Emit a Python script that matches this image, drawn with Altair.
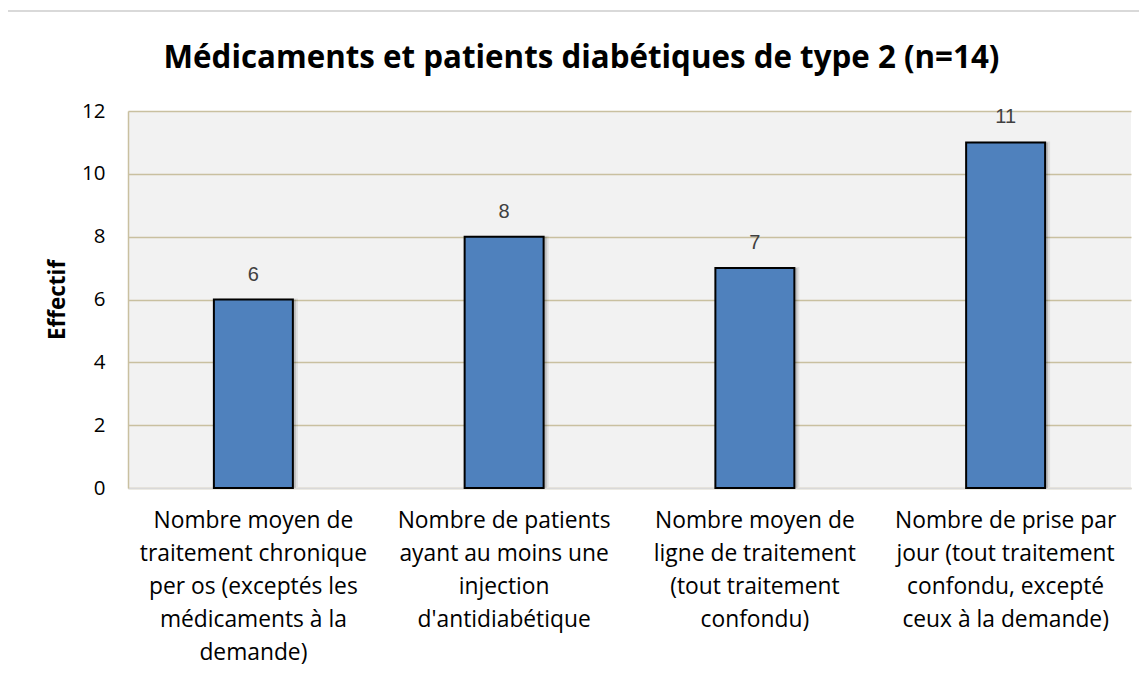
import altair as alt
import pandas as pd
import json

categories = [
    "Nombre moyen de traitement chronique per os (exceptés les médicaments à la demande)",
    "Nombre de patients ayant au moins une injection d'antidiabétique",
    "Nombre moyen de ligne de traitement (tout traitement confondu)",
    "Nombre de prise par jour (tout traitement confondu, excepté ceux à la demande)",
]
label_lines = [
    ["Nombre moyen de", "traitement chronique", "per os (exceptés les", "médicaments à la", "demande)"],
    ["Nombre de patients", "ayant au moins une", "injection", "d'antidiabétique"],
    ["Nombre moyen de", "ligne de traitement", "(tout traitement", "confondu)"],
    ["Nombre de prise par", "jour (tout traitement", "confondu, excepté", "ceux à la demande)"],
]
values = [6, 8, 7, 11]
y_ticks = [0, 2, 4, 6, 8, 10, 12]
title_text = "Médicaments et patients diabétiques de type 2 (n=14)"

df = pd.DataFrame({"cat": categories, "val": values})
mapping = json.dumps(dict(zip(categories, label_lines)), ensure_ascii=False)

W, H = 1003, 377
FONT = "Open Sans"

xenc = alt.X(
    "cat:N",
    sort=categories,
    scale=alt.Scale(paddingInner=0.685, paddingOuter=0.3425),
    axis=alt.Axis(
        title=None,
        labelAngle=0,
        labelExpr=f"{mapping}[datum.value]",
        labelFont=FONT,
        labelFontSize=22.8,
        labelColor="#000000",
        labelLineHeight=33,
        labelPadding=21,
        labelLimit=300,
        ticks=False,
        domain=True,
        domainColor="#d9d9d9",
        domainWidth=1.5,
        grid=False,
    ),
)
yenc = alt.Y(
    "val:Q",
    scale=alt.Scale(domain=[0, 12]),
    axis=alt.Axis(
        values=y_ticks,
        title="Effectif",
        titleFont=FONT,
        titleFontSize=22.5,
        titleFontWeight="bold",
        titleColor="#000000",
        titlePadding=12,
        labelFont=FONT,
        labelFontSize=20.5,
        labelColor="#000000",
        labelPadding=23,
        ticks=False,
        domain=True,
        domainColor="#c9c0a0",
        domainWidth=1.5,
        gridColor="#c9c0a0",
        gridWidth=1.5,
    ),
)

base = alt.Chart(df)

shadow2 = base.mark_bar(color="#000000", opacity=0.08, xOffset=5, yOffset=-1).encode(x=xenc, y=yenc)
shadow1 = base.mark_bar(color="#000000", opacity=0.15, xOffset=3).encode(x=xenc, y=yenc)
bars = base.mark_bar(color="#4f81bd", stroke="#000000", strokeWidth=2).encode(x=xenc, y=yenc)
labels = base.mark_text(
    dy=-25, font="Liberation Sans", fontSize=20, color="#404040"
).encode(x=xenc, y=yenc, text="val:Q")

title_df = pd.DataFrame({"t": [title_text]})
title = alt.Chart(title_df).mark_text(
    font=FONT, fontSize=31.3, fontWeight="bold", color="#000000", align="center", baseline="middle"
).encode(x=alt.value(W / 2 - 48), y=alt.value(-52), text="t:N")

border_top = alt.Chart(df).mark_rule(color="#d9d9d9", strokeWidth=1.5).encode(
    x=alt.value(-121), x2=alt.value(W + 40), y=alt.value(-100)
)
border_left = alt.Chart(df).mark_rule(color="#d9d9d9", strokeWidth=1.5).encode(
    x=alt.value(-121), y=alt.value(-100), y2=alt.value(H + 200)
)

chart = (
    alt.layer(border_top, border_left, title, shadow2, shadow1, bars, labels)
    .properties(
        width=W,
        height=H,
        autosize=alt.AutoSizeParams(type="none"),
        padding={"left": 120, "top": 103, "right": 8, "bottom": 190},
        background="#ffffff",
    )
    .configure_view(fill="#f2f2f2", stroke=None)
)

chart.save("out.html", embed_options={"renderer": "svg", "actions": False})
